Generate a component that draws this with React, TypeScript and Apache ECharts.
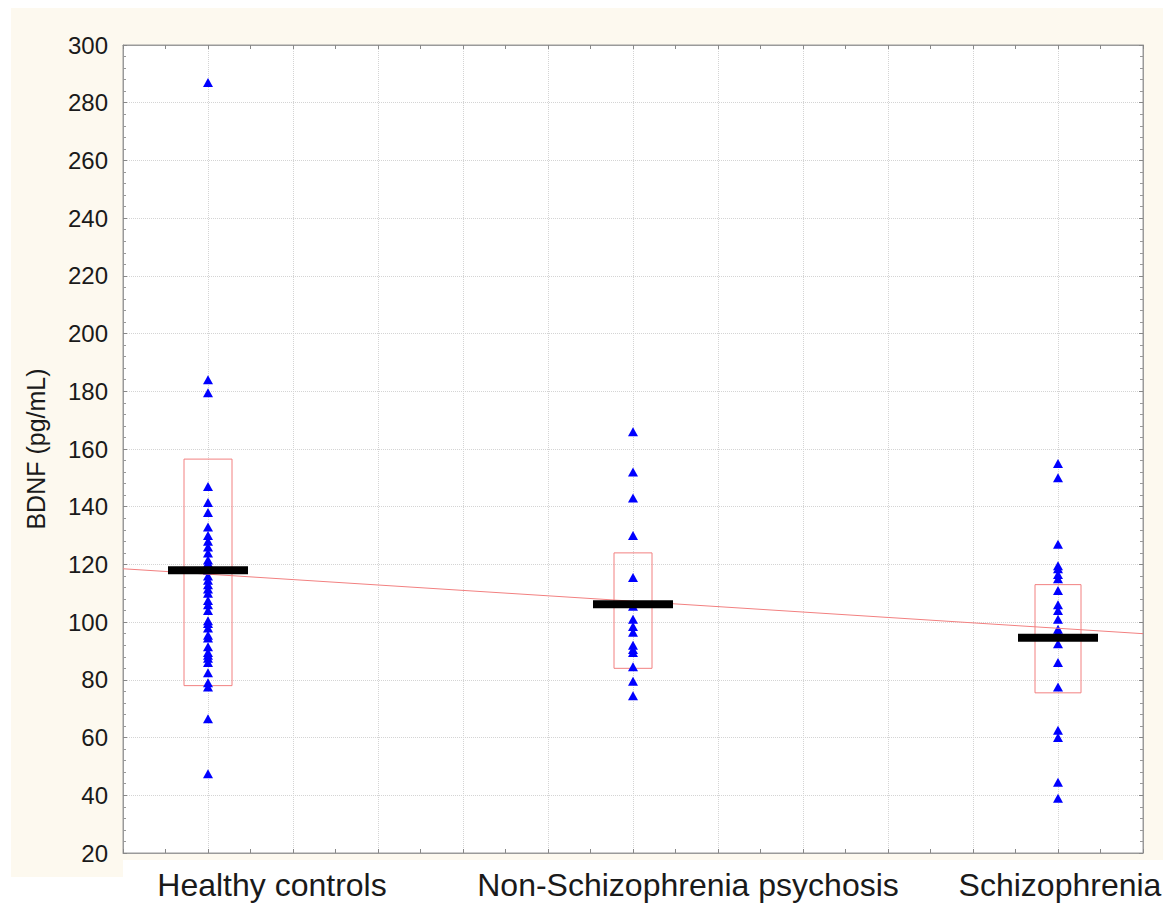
import React, { useEffect, useRef } from "react";
import * as echarts from "echarts";

// ---- data ----
const categories = ["Healthy controls", "Non-Schizophrenia psychosis", "Schizophrenia"];
const healthyControls = [
  287, 184, 179.5, 147, 141.5, 138, 133, 130, 128, 126, 124, 121.5, 120.5, 118, 116,
  114.5, 113, 111.5, 110, 107.5, 106, 104, 100.5, 99.5, 98, 95.5, 94.5, 91.5, 89.5,
  88.5, 87.5, 86, 82.5, 79, 77.5, 66.5, 47.5,
];
const nonSchizophreniaPsychosis = [
  166, 152, 143, 130, 115.5, 105.5, 101, 98.5, 96.5, 92, 90.5, 89.5, 84.5, 79.5, 74.5,
];
const schizophrenia = [
  155, 150, 127, 119.5, 118.5, 116.5, 115, 111, 106, 104, 101, 97.5, 96.5, 92.5, 86,
  77.5, 62.5, 60, 44.5, 39,
];
const groupMeans = [118, 106.2, 94.6];
const boxLow = [78, 84, 75.5];
const boxHigh = [156.5, 124, 113];
const trendX = [-0.2, 2.2];
const trendY = [118.5, 96];
const yMin = 20;
const yMax = 300;
const yStep = 20;

// ---- styles ----
const FONT = "'Liberation Sans', Arial, sans-serif";
const RED = "#f28080";
const BLUE = "#0000ff";
const CREAM = "#fdf9ef";
const boxHalfWidths = [24, 19, 23];

export default function App() {
  const ref = useRef<HTMLDivElement>(null);

  useEffect(() => {
    if (!ref.current) return;
    const chart = echarts.init(ref.current, undefined, { renderer: "svg" });

    const groups = [healthyControls, nonSchizophreniaPsychosis, schizophrenia];
    const pointData: number[][] = [];
    groups.forEach((g, i) => g.forEach((v) => pointData.push([i, v])));
    const meanData = groupMeans.map((m, i) => [i, m]);
    const boxData = boxLow.map((lo, i) => [i, lo, boxHigh[i]]);
    const trendData = trendX.map((x, i) => [x, trendY[i]]);

    const xCommon = {
      type: "value" as const,
      min: -0.2,
      max: 2.2,
      interval: 0.2,
      splitLine: { show: false },
      axisLine: { show: true, onZero: false, lineStyle: { color: "#9a9a9a" } },
      axisTick: { show: true, inside: true, length: 4, lineStyle: { color: "#888" } },
      minorTick: { show: true, splitNumber: 2, length: 4, lineStyle: { color: "#888" } },
    };
    const yCommon = {
      type: "value" as const,
      min: yMin,
      max: yMax,
      interval: yStep,
      axisLine: { show: true, onZero: false, lineStyle: { color: "#9a9a9a" } },
      axisTick: { show: true, inside: true, length: 4, lineStyle: { color: "#888" } },
      minorTick: { show: true, splitNumber: 5, length: 3, lineStyle: { color: "#999" } },
    };

    chart.setOption({
      animation: false,
      backgroundColor: "#ffffff",
      graphic: {
        elements: [
          { type: "rect", z: -10, shape: { x: 11, y: 8, width: 1152, height: 852 }, style: { fill: CREAM } },
          { type: "rect", z: -10, shape: { x: 11, y: 860, width: 112, height: 17 }, style: { fill: CREAM } },
        ],
      },
      grid: {
        left: 123,
        top: 45,
        width: 1020,
        height: 808,
        show: true,
        backgroundColor: "#ffffff",
        borderColor: "#9a9a9a",
        borderWidth: 1,
      },
      xAxis: [
        {
          ...xCommon,
          position: "bottom",
          splitLine: { show: true, lineStyle: { color: "#d4d4d4", type: "dotted" } },
          axisLabel: {
            show: true,
            margin: 16,
            fontFamily: FONT,
            fontSize: 32,
            color: "#1a1a1a",
            formatter: (v: number) => {
              const i = Math.round(v);
              if (Math.abs(v - i) < 1e-6 && i >= 0 && i < categories.length) {
                return `{c${i}|${categories[i]}}`;
              }
              return "";
            },
            rich: {
              c0: { fontFamily: FONT, fontSize: 32, color: "#1a1a1a", padding: [0, 0, 0, 128] },
              c1: { fontFamily: FONT, fontSize: 32, color: "#1a1a1a", padding: [0, 0, 0, 110] },
              c2: { fontFamily: FONT, fontSize: 32, color: "#1a1a1a", padding: [0, 0, 0, 4] },
            },
          },
        },
        { ...xCommon, position: "top", axisLabel: { show: false } },
      ],
      yAxis: [
        {
          ...yCommon,
          position: "left",
          name: "BDNF (pg/mL)",
          nameLocation: "middle",
          nameGap: 75,
          nameTextStyle: { fontFamily: FONT, fontSize: 25, color: "#1a1a1a" },
          splitLine: { show: true, lineStyle: { color: "#d4d4d4", type: "dotted" } },
          axisLabel: { margin: 15, fontFamily: FONT, fontSize: 24, color: "#1a1a1a" },
        },
        { ...yCommon, position: "right", splitLine: { show: false }, axisLabel: { show: false } },
      ],
      series: [
        {
          type: "custom",
          z: 2,
          xAxisIndex: 0,
          yAxisIndex: 0,
          data: boxData,
          renderItem: (params: any, api: any) => {
            const i = api.value(0);
            const lo = api.coord([i, api.value(1)]);
            const hi = api.coord([i, api.value(2)]);
            const hw = boxHalfWidths[i];
            return {
              type: "rect",
              shape: { x: lo[0] - hw, y: hi[1], width: 2 * hw, height: lo[1] - hi[1] },
              style: { fill: "none", stroke: RED, lineWidth: 1 },
            };
          },
        },
        {
          type: "scatter",
          z: 3,
          data: pointData,
          symbol: "triangle",
          symbolSize: [10, 9],
          itemStyle: { color: BLUE, opacity: 1 },
        },
        {
          type: "line",
          z: 4,
          data: trendData,
          showSymbol: false,
          symbol: "none",
          lineStyle: { color: RED, width: 1 },
        },
        {
          type: "scatter",
          z: 5,
          data: meanData,
          symbol: "rect",
          symbolSize: [80, 8],
          itemStyle: { color: "#000000", opacity: 1 },
        },
      ],
    });

    return () => chart.dispose();
  }, []);

  return (
    <div
      ref={ref}
      style={{ position: "fixed", left: 0, top: 0, width: 1171, height: 910 }}
    />
  );
}
